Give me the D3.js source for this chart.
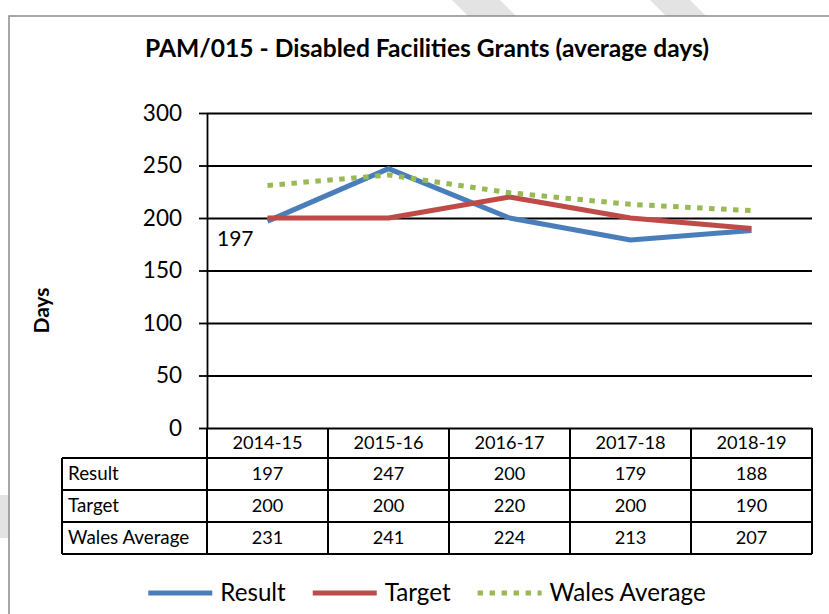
<!DOCTYPE html>
<html>
<head>
<meta charset="utf-8">
<script src="https://cdn.jsdelivr.net/npm/d3@7"></script>
<style>
  html, body { margin: 0; padding: 0; background: #fff; }
  svg { display: block; font-family: Lato, "Open Sans", sans-serif; }
</style>
</head>
<body>
<svg id="chart"></svg>
<script>
const categories = ['2014-15', '2015-16', '2016-17', '2017-18', '2018-19'];
const result = [197, 247, 200, 179, 188];
const target = [200, 200, 220, 200, 190];
const walesAverage = [231, 241, 224, 213, 207];
const yTicks = [0, 50, 100, 150, 200, 250, 300];
const title = 'PAM/015 - Disabled Facilities Grants (average days)';
const yTitle = 'Days';

const width = 829;
const height = 614;
const plotLeft = 207;
const plotRight = 812;
const plotTop = 113;
const plotBottom = 428;
const headH = 30;
const rowH = 32;
const tableLeft = 62;

const series = [
  { name: 'Result', values: result, color: '#4A7EBB', dash: null },
  { name: 'Target', values: target, color: '#BE4B48', dash: null },
  { name: 'Wales Average', values: walesAverage, color: '#98B954', dash: '5.5,6.5' }
];

const svg = d3.select('#chart').attr('width', width).attr('height', height);

// faint watermark bits showing round the frame
const wm = [
  [[452, 0], [500, 0], [516, 16], [468, 16]],
  [[650, 0], [690, 0], [706, 16], [666, 16]],
  [[0, 495], [9, 495], [9, 538], [0, 538]]
];
svg.selectAll('.wm').data(wm).enter().append('polygon')
  .attr('class', 'wm')
  .attr('points', d => d.join(' '))
  .attr('fill', '#e3e3e3');

// chart frame
svg.append('rect')
  .attr('x', 9).attr('y', 16)
  .attr('width', width + 10).attr('height', height + 10)
  .attr('fill', '#fff')
  .attr('stroke', '#8a8a8a')
  .attr('stroke-width', 1.5);

svg.append('text')
  .attr('x', 427).attr('y', 57)
  .attr('text-anchor', 'middle')
  .attr('font-weight', 'bold')
  .attr('font-size', 24.6)
  .text(title);

const x = d3.scaleBand().domain(categories).range([plotLeft, plotRight]).padding(0);
const y = d3.scaleLinear().domain([0, 300]).range([plotBottom, plotTop]);
const cx = c => x(c) + x.bandwidth() / 2;

// gridlines
svg.append('g')
  .attr('transform', `translate(${plotLeft},0)`)
  .call(d3.axisLeft(y).tickValues(yTicks).tickSize(-(plotRight - plotLeft)).tickFormat(''))
  .call(g => g.select('.domain').remove())
  .call(g => g.selectAll('line').attr('stroke', '#000').attr('stroke-width', 1.8));

// left axis with labels
svg.append('g')
  .attr('transform', `translate(${plotLeft},0)`)
  .call(d3.axisLeft(y).tickValues(yTicks).tickSize(8).tickSizeOuter(0).tickPadding(17))
  .call(g => g.select('.domain').attr('stroke', '#000').attr('stroke-width', 1.8))
  .call(g => g.selectAll('line').attr('stroke', '#000').attr('stroke-width', 1.8))
  .call(g => g.selectAll('text')
    .attr('font-family', 'Lato, sans-serif')
    .attr('font-size', 22.5)
    .attr('fill', '#000'));

svg.append('text')
  .attr('transform', `translate(49,${(plotTop + plotBottom) / 2 + 40}) rotate(-90)`)
  .attr('text-anchor', 'middle')
  .attr('font-weight', 'bold')
  .attr('font-size', 21)
  .text(yTitle);

// series lines
const line = d3.line()
  .x((d, i) => cx(categories[i]))
  .y(d => y(d));

svg.selectAll('.series').data(series).enter().append('path')
  .attr('class', 'series')
  .attr('d', d => line(d.values))
  .attr('fill', 'none')
  .attr('stroke', d => d.color)
  .attr('stroke-width', 5)
  .attr('stroke-linejoin', 'round')
  .attr('stroke-dasharray', d => d.dash);

// data label on first result point
svg.append('text')
  .attr('x', cx(categories[0]) - 14)
  .attr('y', y(result[0]) + 25)
  .attr('text-anchor', 'end')
  .attr('font-size', 21)
  .text(result[0]);

// data table
const table = svg.append('g').attr('stroke', '#000').attr('stroke-width', 2);
const tableBottom = plotBottom + headH + rowH * series.length;
const colEdges = categories.map(c => x(c)).concat([plotRight]);
table.selectAll('.vline').data(colEdges).enter().append('line')
  .attr('x1', d => d).attr('x2', d => d)
  .attr('y1', plotBottom).attr('y2', tableBottom);
table.append('line')
  .attr('x1', tableLeft).attr('x2', tableLeft)
  .attr('y1', plotBottom + headH).attr('y2', tableBottom);
const rowEdges = d3.range(series.length + 1).map(i => plotBottom + headH + i * rowH);
table.selectAll('.hline').data(rowEdges).enter().append('line')
  .attr('x1', tableLeft).attr('x2', plotRight)
  .attr('y1', d => d).attr('y2', d => d);

svg.selectAll('.head').data(categories).enter().append('text')
  .attr('x', d => cx(d))
  .attr('y', plotBottom + headH / 2 + 6)
  .attr('text-anchor', 'middle')
  .attr('font-size', 18.2)
  .text(d => d);

const rows = svg.selectAll('.row').data(series).enter().append('g')
  .attr('transform', (d, i) => `translate(0,${plotBottom + headH + i * rowH + rowH / 2 + 6})`);
rows.append('text')
  .attr('x', tableLeft + 6)
  .attr('font-size', 18.8)
  .text(d => d.name);
rows.selectAll('.cell').data(d => d.values).enter().append('text')
  .attr('x', (d, i) => cx(categories[i]))
  .attr('text-anchor', 'middle')
  .attr('font-size', 18.2)
  .text(d => d);

// legend
const legend = svg.append('g');
let lx = 0;
series.forEach(s => {
  const item = legend.append('g').attr('transform', `translate(${lx},0)`);
  item.append('line')
    .attr('x1', 0).attr('x2', 64)
    .attr('stroke', s.color).attr('stroke-width', 5)
    .attr('stroke-dasharray', s.dash);
  const t = item.append('text')
    .attr('x', 72).attr('y', 8)
    .attr('font-size', 24.2)
    .text(s.name);
  lx += 72 + t.node().getComputedTextLength() + 27;
});
const legendW = lx - 27;
legend.attr('transform', `translate(${427 - legendW / 2},593)`);
</script>
</body>
</html>
